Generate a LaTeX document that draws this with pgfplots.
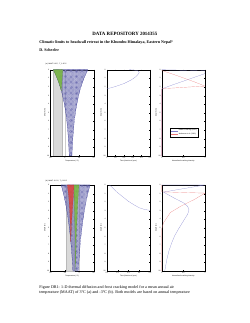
\documentclass[border=0pt]{standalone}
\usepackage{fontspec}
\setmainfont{Liberation Serif}
\newfontfamily\axfont{Liberation Sans}
\usepackage{pgfplots}
\pgfplotsset{compat=1.18}
\usetikzlibrary{patterns}
\definecolor{envblue}{RGB}{40,40,140}
\definecolor{lineblue}{RGB}{125,125,205}
\definecolor{linered}{RGB}{235,120,120}
\definecolor{fcgreen}{RGB}{120,185,60}
\definecolor{fcred}{RGB}{225,60,50}
\pgfplotsset{
  mstyle/.style={
    scale only axis, width=106pt, height=211pt, anchor=south west,
    y dir=reverse, ymin=0, ymax=10, ytick={0,1,...,10},
    tick align=inside, major tick length=1.8pt,
    every tick/.style={black, line width=0.25pt},
    axis line style={line width=0.3pt},
    tick label style={font=\axfont\fontsize{4.2}{5}\selectfont},
    label style={font=\axfont\fontsize{4.2}{5}\selectfont},
    /pgf/number format/assume math mode=true,
    ylabel={Depth (m)},
    ylabel style={yshift=-3pt},
    xlabel style={yshift=3pt},
    yticklabel style={xshift=0.5pt},
    xticklabel style={yshift=0.5pt},
  }
}
\begin{document}
\begin{tikzpicture}
\path[use as bounding box] (0pt,0pt) rectangle (612pt,792pt);
\node[font=\bfseries\fontsize{12}{14}\selectfont] at (306pt,708pt) {DATA REPOSITORY 2014355};
\node[anchor=west,font=\bfseries\fontsize{10}{12}\selectfont] at (93pt,687.5pt) {Climatic limits to headwall retreat in the Khumbu Himalaya, Eastern Nepal\textsuperscript{1}};
\node[anchor=west,font=\bfseries\fontsize{10}{12}\selectfont] at (93pt,668pt) {D. Scherler};
\node[anchor=west,font=\fontsize{10}{12}\selectfont] at (93pt,86.2pt) {Figure DR1: 1-D thermal diffusion and frost cracking model for a mean annual air};
\node[anchor=west,font=\fontsize{10}{12}\selectfont] at (93pt,74pt) {temperature (MAAT) of 3°C (a) and -3°C (b). Both models are based on annual temperature};
\node[anchor=west,font=\axfont\fontsize{4.2}{5}\selectfont] at (108pt,634.6pt) {(a)\ \ MAAT 3.0°C;\ \ T\_0 12°C};
\node[anchor=west,font=\axfont\fontsize{4.2}{5}\selectfont] at (108pt,349pt) {(b)\ \ MAAT -3.0°C;\ \ T\_0 10°C};

% ---------- (a) temperature ----------
\begin{axis}[mstyle, at={(123.6pt,410pt)}, xmin=-10, xmax=20, xtick={-10,0,10,20},
  xlabel={Temperature (°C)}]
\addplot[fill=gray!30, draw=gray!55, line width=0.3pt] coordinates {(-8.5,0)(-2,0)(-2,10)(-8.5,10)} -- cycle;
\addplot[gray!40, line width=0.3pt] coordinates {(0,0)(0,10)};
\addplot[draw=envblue, line width=0.4pt, pattern=crosshatch, pattern color=envblue!65] coordinates {
(-8,0)(-6.56,0.5)(-5.29,1)(-4.17,1.5)(-3.19,2)(-2.32,2.5)(-1.56,3)(-0.30,4)(0.67,5)(1.42,6)(2.01,7)(2.46,8)(2.81,9)(3.08,10)
(4.92,10)(5.19,9)(5.54,8)(5.99,7)(6.58,6)(7.33,5)(8.30,4)(9.56,3)(10.32,2.5)(11.19,2)(12.17,1.5)(13.29,1)(14.56,0.5)(16,0)} -- cycle;
\addplot[draw=fcgreen!80!black, line width=0.3pt, fill=fcgreen, fill opacity=0.85] coordinates {
(-8,0)(-6.56,0.5)(-5.29,1)(-4.17,1.5)(-3.19,2)(-2.45,2.45)(-2.2,1.8)(-1.9,1.0)(-1.5,0)} -- cycle;
\end{axis}

% ---------- (a) time ----------
\begin{axis}[mstyle, at={(261.9pt,410pt)}, xmin=0, xmax=0.5, xtick={0,0.1,0.2,0.3,0.4,0.5},
  xticklabels={0,0.1,0.2,0.3,0.4,0.5}, xlabel={Time (fraction of year)}]
\addplot[lineblue, line width=0.4pt] coordinates {
(0.26,0)(0.31,0.03)(0.36,0.12)(0.375,0.3)(0.36,0.55)(0.33,0.85)(0.28,1.2)(0.2,1.6)(0.1,1.95)(0.04,2.12)(0,2.2)};
\end{axis}

% ---------- (a) cracking ----------
\begin{axis}[mstyle, at={(396.6pt,410pt)}, xmin=0, xmax=1, xtick={0,0.5,1},
  xticklabels={0,0.5,1}, xlabel={Normalized cracking intensity},
  legend style={at={(0.52,0.27)}, anchor=center, font=\axfont\fontsize{4.2}{5}\selectfont,
    draw=black, line width=0.25pt, inner sep=1.5pt, row sep=1pt},
  legend cell align=left]
\addplot[lineblue, line width=0.4pt] coordinates {
(0,0)(1,0.12)(1,0.45)(0.8,0.8)(0.6,1.15)(0.4,1.5)(0.2,1.85)(0.06,2.12)(0,2.25)(0,10)};
\addlegendentry{Hales \& Roering (2007)}
\addplot[linered, line width=0.4pt] coordinates {
(0,0.08)(0.25,0.5)(0.5,0.95)(0.75,1.4)(1,1.9)(0.75,1.97)(0.5,2.05)(0.25,2.13)(0,2.2)(0,10)};
\addlegendentry{Anderson et al. (2012)}
\end{axis}

% ---------- (b) temperature ----------
\begin{axis}[mstyle, at={(123.6pt,127.5pt)}, xmin=-20, xmax=10, xtick={-20,-10,0,10},
  xlabel={Temperature (°C)}]
\addplot[fill=gray!30, draw=gray!55, line width=0.3pt] coordinates {(-9,0)(-3.5,0)(-3.5,10)(-9,10)} -- cycle;
\addplot[gray!40, line width=0.3pt] coordinates {(0,0)(0,10)};
\addplot[draw=envblue, line width=0.4pt, pattern=crosshatch, pattern color=envblue!65] coordinates {
(-12.5,0)(-11.7,0.5)(-10.96,1)(-10.29,1.5)(-9.67,2)(-9.09,2.5)(-8.57,3)(-7.63,4)(-6.85,5)(-6.18,6)(-5.61,7)(-5.14,8)(-4.73,9)(-4.39,10)
(-0.61,10)(-0.27,9)(0.14,8)(0.61,7)(1.18,6)(1.85,5)(2.63,4)(3.57,3)(4.09,2.5)(4.67,2)(5.29,1.5)(5.96,1)(6.7,0.5)(7.5,0)} -- cycle;
\addplot[draw=fcred!80!black, line width=0.3pt, fill=fcred, fill opacity=0.8] coordinates {
(-8.2,0)(-7.2,1.5)(-6.6,3)(-6.2,4.5)(-5.9,6.6)(-5.4,4.5)(-4.8,3)(-4.2,1.5)(-3.6,0)} -- cycle;
\addplot[draw=fcgreen!80!black, line width=0.3pt, fill=fcgreen, fill opacity=0.85] coordinates {
(-3.6,0)(-3.4,2)(-3.1,4)(-2.8,6)(-2.6,8)(-2.5,10)(-2.3,8)(-2.1,6)(-1.6,4)(-1.0,2)(-0.2,0)} -- cycle;
\end{axis}

% ---------- (b) time ----------
\begin{axis}[mstyle, at={(261.9pt,127.5pt)}, xmin=0.1, xmax=0.5, xtick={0.1,0.2,0.3,0.4,0.5},
  xticklabels={0.1,0.2,0.3,0.4,0.5}, xlabel={Time (fraction of year)}]
\addplot[lineblue, line width=0.4pt] coordinates {
(0.125,0)(0.15,0.3)(0.2,0.9)(0.25,1.4)(0.3,1.9)(0.35,2.3)(0.4,2.65)(0.45,2.85)(0.5,2.95)};
\end{axis}

% ---------- (b) cracking ----------
\begin{axis}[mstyle, at={(396.6pt,127.5pt)}, xmin=0, xmax=1, xtick={0,0.5,1},
  xticklabels={0,0.5,1}, xlabel={Normalized cracking intensity}]
\addplot[lineblue, line width=0.4pt] coordinates {
(0,0)(1,0)(0.04,0.83)(0.28,1.5)(0.51,2.1)(0.6,2.5)(0.63,2.9)(0.6,3.4)(0.5,4.2)(0.39,5.1)(0.3,5.9)(0.24,6.6)(0.17,7.6)(0.12,8.6)(0.08,9.7)(0.07,10)};
\addplot[linered, line width=0.4pt] coordinates {
(0,0)(0,0.8)(1,0.95)(0.75,1.7)(0.43,2.5)(0.2,3.2)(0.04,4.4)(0,5.1)(0,10)};
\end{axis}
\end{tikzpicture}
\end{document}
